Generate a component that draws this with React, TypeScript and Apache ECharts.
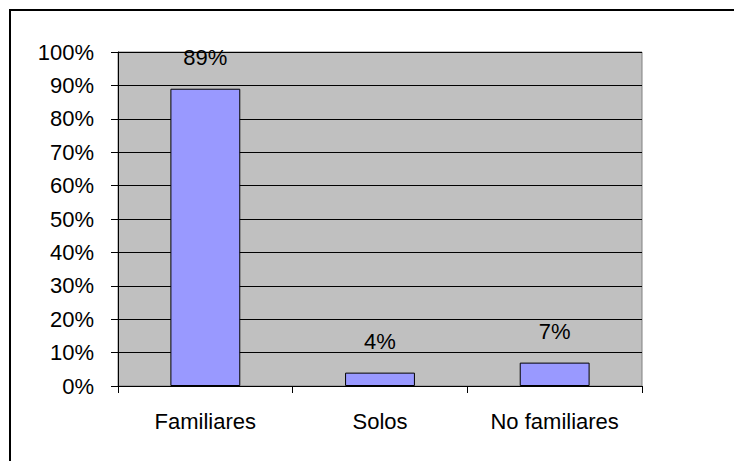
import React, { useEffect, useRef } from "react";
import * as echarts from "echarts";

const categories = ["Familiares", "Solos", "No familiares"];
const values = [0.89, 0.04, 0.07];
const yTicks = [0, 0.1, 0.2, 0.3, 0.4, 0.5, 0.6, 0.7, 0.8, 0.9, 1];

const FONT = "Arial, 'Liberation Sans', sans-serif";

export default function App() {
  const ref = useRef<HTMLDivElement>(null);
  useEffect(() => {
    if (!ref.current) return;
    const chart = echarts.init(ref.current, undefined, { renderer: "svg" });
    chart.setOption({
      animation: false,
      backgroundColor: "#ffffff",
      textStyle: { fontFamily: FONT },
      graphic: [
        {
          type: "rect",
          silent: true,
          z: 100,
          shape: { x: 10, y: 10, width: 800, height: 800 },
          style: { fill: "none", stroke: "#000000", lineWidth: 2 },
        },
      ],
      grid: {
        left: 118,
        top: 52,
        width: 524,
        height: 334,
        show: true,
        backgroundColor: "#c0c0c0",
        borderColor: "#808080",
        borderWidth: 1,
      },
      xAxis: {
        type: "category",
        data: categories,
        axisLine: { show: true, lineStyle: { color: "#000000", width: 1 } },
        axisTick: { show: true, alignWithLabel: false, length: 7, lineStyle: { color: "#000000" } },
        axisLabel: { color: "#000000", fontSize: 22, fontFamily: FONT, margin: 24 },
        splitLine: { show: false },
      },
      yAxis: {
        type: "value",
        min: 0,
        max: yTicks[yTicks.length - 1],
        interval: 0.1,
        axisLine: { show: true, lineStyle: { color: "#000000", width: 1 } },
        axisTick: { show: true, length: 7, lineStyle: { color: "#000000" } },
        axisLabel: {
          color: "#000000",
          fontSize: 22,
          fontFamily: FONT,
          margin: 24,
          formatter: (v: number) => Math.round(v * 100) + "%",
        },
        splitLine: { show: true, lineStyle: { color: "#000000", width: 1 } },
      },
      series: [
        {
          type: "bar",
          data: values,
          barWidth: "40%",
          itemStyle: { color: "#9999ff", borderColor: "#000000", borderWidth: 1 },
          label: {
            show: true,
            position: "top",
            distance: 20,
            color: "#000000",
            fontSize: 22,
            fontFamily: FONT,
            formatter: (p: any) => Math.round(p.value * 100) + "%",
          },
        },
      ],
    });
    return () => chart.dispose();
  }, []);
  return (
    <div
      ref={ref}
      style={{ position: "fixed", left: 0, top: 0, width: 734, height: 461 }}
    />
  );
}
